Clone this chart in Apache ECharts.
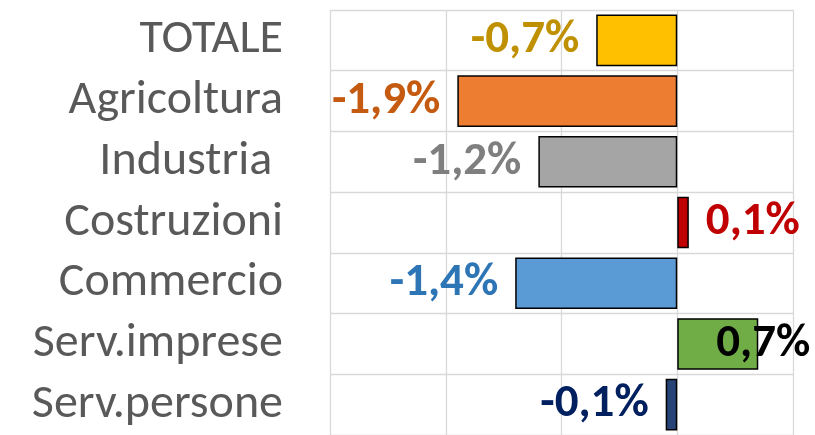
<!DOCTYPE html>
<html>
<head>
<meta charset="utf-8">
<script src="https://cdn.jsdelivr.net/npm/echarts@6/dist/echarts.min.js"></script>
<style>
  html, body { margin: 0; padding: 0; background: #fff; }
  #chart { width: 815px; height: 435px; }
</style>
</head>
<body>
<div id="chart"></div>
<script>
// categories top to bottom
const categories = ['TOTALE', 'Agricoltura', 'Industria ', 'Costruzioni', 'Commercio', 'Serv.imprese', 'Serv.persone'];
const values = [-0.7, -1.9, -1.2, 0.1, -1.4, 0.7, -0.1];
const barColors = ['#FFC000', '#ED7D31', '#A5A5A5', '#C00000', '#5B9BD5', '#70AD47', '#264478'];
const labelColors = ['#BF9000', '#C55A11', '#7F7F7F', '#C00000', '#2E75B6', '#000000', '#002060'];
const valueTicks = [-3, -2, -1, 0, 1];

const fmt = v => v.toFixed(1).replace('.', ',') + '%';

const chart = echarts.init(document.getElementById('chart'));

chart.setOption({
  backgroundColor: '#fff',
  animation: false,
  grid: { left: 330, right: 22, top: 10, height: 431 },
  xAxis: {
    type: 'value',
    min: valueTicks[0],
    max: valueTicks[valueTicks.length - 1],
    interval: 1,
    axisLabel: { show: false },
    axisLine: { show: false },
    axisTick: { show: false },
    splitLine: { lineStyle: { color: '#D9D9D9', width: 1.3 } }
  },
  yAxis: {
    type: 'category',
    data: categories,
    inverse: true,
    axisLine: { show: false, onZero: false },
    axisTick: { show: false },
    splitLine: { show: true, interval: 0, lineStyle: { color: '#D9D9D9', width: 1.3 } },
    axisLabel: {
      interval: 0,
      margin: 47,
      color: '#595959',
      fontFamily: 'Carlito, Lato, sans-serif',
      fontSize: 48
    }
  },
  series: [{
    type: 'bar',
    barCategoryGap: '15%',
    data: values.map((v, i) => {
      const item = {
        value: v,
        itemStyle: { color: barColors[i] },
        label: { color: labelColors[i], position: v < 0 ? 'left' : 'right' }
      };
      // excel pushes the outside label back inside the plot when it overflows
      if (i === 5) item.label.offset = [-59, 0];
      return item;
    }),
    itemStyle: { borderColor: '#000', borderWidth: 1.5 },
    label: {
      show: true,
      distance: 17,
      formatter: p => fmt(p.value),
      fontFamily: 'Carlito, Lato, sans-serif',
      fontWeight: 'bold',
      fontSize: 47
    }
  }]
});
</script>
</body>
</html>
